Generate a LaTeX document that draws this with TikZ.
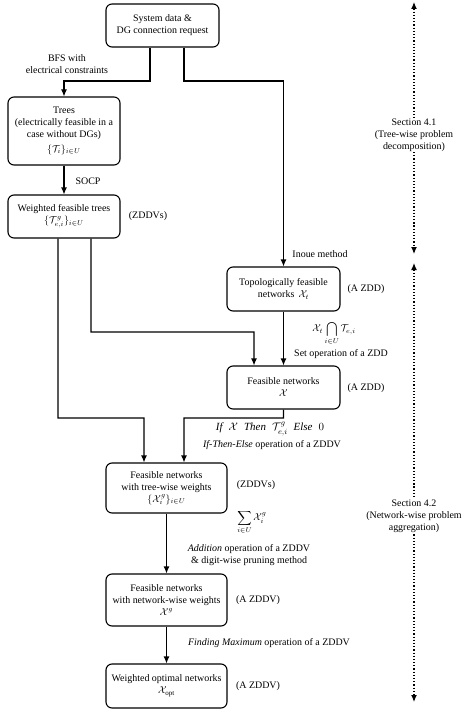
\documentclass[tikz,border=0pt]{standalone}
\usepackage{fontspec}
\setmainfont{Liberation Serif}
\usepackage{amsmath}
\usetikzlibrary{arrows.meta}
\begin{document}
\begin{tikzpicture}[x=1bp,y=-1bp,
  box/.style={draw, line width=1.1bp, rounded corners=6bp, align=center, inner sep=1bp,
    font=\fontsize{10}{12}\selectfont},
  lbl/.style={align=center, inner sep=1bp, font=\fontsize{10}{12}\selectfont},
  arr/.style={line width=1.1bp, -{Latex[length=7bp,width=6bp]}},
  sect/.style={line width=1.2bp, dotted, {Latex[length=7bp,width=6bp]}-{Latex[length=7bp,width=6bp]}}]
\useasboundingbox (0,0) rectangle (474,715);

% boxes
\node[box, minimum width=113bp, minimum height=43bp] (sys) at (162.5,25.5) {System data \&\\DG connection request};
\node[box, minimum width=112bp, minimum height=68bp] (trees) at (64,131) {Trees\\(electrically feasible in a\\case without DGs)\\[3bp]$\{\mathcal{T}_i\}_{i\in U}$};
\node[box, minimum width=112bp, minimum height=43bp] (wt) at (64,216.5) {Weighted feasible trees\\$\{\mathcal{T}^g_{e,i}\}_{i\in U}$};
\node[box, minimum width=113bp, minimum height=44bp] (topo) at (283.5,289) {Topologically feasible\\networks \,$\mathcal{X}_t$};
\node[box, minimum width=113bp, minimum height=43bp] (feas) at (283.5,387.5) {Feasible networks\\$\mathcal{X}$};
\node[box, minimum width=121bp, minimum height=50bp] (fnt) at (166.5,488) {Feasible networks\\with tree-wise weights\\$\{\mathcal{X}^g_i\}_{i\in U}$};
\node[box, minimum width=121bp, minimum height=52bp] (fnn) at (166.5,600) {Feasible networks\\with network-wise weights\\$\mathcal{X}^g$};
\node[box, minimum width=121bp, minimum height=44bp] (opt) at (166.5,686) {Weighted optimal networks\\$\mathcal{X}_{\mathrm{opt}}$};

% junctions
\coordinate (j1) at (64,81);
\coordinate (j2) at (283.5,81);
\coordinate (j3) at (144,418);
\coordinate (j4) at (254,332);
\coordinate (j5) at (184,418);

% connectors
\draw[arr] ([xshift=-12.5bp]sys.south) |- (j1) -- (trees.north);
\draw[arr] ([xshift=21.5bp]sys.south) |- (j2) -- (topo.north);
\draw[arr] (trees.south) -- (wt.north);
\draw[arr] ([xshift=-6bp]wt.south) |- (j3) -- ([xshift=-22.5bp]fnt.north);
\draw[arr] ([xshift=27bp]wt.south) |- (j4) -- ([xshift=-29.5bp]feas.north);
\draw[arr] (topo.south) -- (feas.north);
\draw[arr] (feas.south) |- (j5) -- ([xshift=17.5bp]fnt.north);
\draw[arr] (fnt.south) -- (fnn.north);
\draw[arr] (fnn.south) -- (opt.north);

% labels
\node[lbl] (l1) at (67,64) {BFS with\\electrical constraints};
\node[lbl] (l2) at (88,181) {SOCP};
\node[lbl] (l3) at (148,216) {(ZDDVs)};
\node[lbl] (l4) at (320,254) {Inoue method};
\node[lbl] (l5) at (366,289) {(A ZDD)};
\node[lbl] (l6) at (334,333) {$\displaystyle\mathcal{X}_t\bigcap_{i\in U}\mathcal{T}_{e,i}$};
\node[lbl] (l7) at (341,354) {Set operation of a ZDD};
\node[lbl] (l8) at (366,388) {(A ZDD)};
\node[lbl, font=\fontsize{11}{13}\selectfont] (l9) at (270,429) {$\mathit{If}\;\;\mathcal{X}\;\;\mathit{Then}\;\;\mathcal{T}^g_{e,i}\;\;\mathit{Else}\;\;0$};
\node[lbl] (l10) at (272,445.5) {\textit{If-Then-Else} operation of a ZDDV};
\node[lbl] (l11) at (256,485) {(ZDDVs)};
\node[lbl] (l12) at (252,522) {$\displaystyle\sum_{i\in U}\mathcal{X}^g_i$};
\node[lbl] (l13) at (249,555) {\textit{Addition} operation of a ZDDV\\\& digit-wise pruning method};
\node[lbl] (l14) at (258,600) {(A ZDDV)};
\node[lbl] (l15) at (269,643) {\textit{Finding Maximum} operation of a ZDDV};
\node[lbl] (l16) at (258,686) {(A ZDDV)};

% section arrows
\coordinate (s1a) at (414,2);
\coordinate (s1b) at (414,254);
\coordinate (s2a) at (414,263);
\coordinate (s2b) at (414,702);
\draw[sect] (s1a) -- (s1b);
\draw[sect] (s2a) -- (s2b);
\node[lbl, fill=white] (sec1) at (414,135) {Section 4.1\\(Tree-wise problem\\decomposition)};
\node[lbl, fill=white] (sec2) at (414,516) {Section 4.2\\(Network-wise problem\\aggregation)};
\end{tikzpicture}
\end{document}
